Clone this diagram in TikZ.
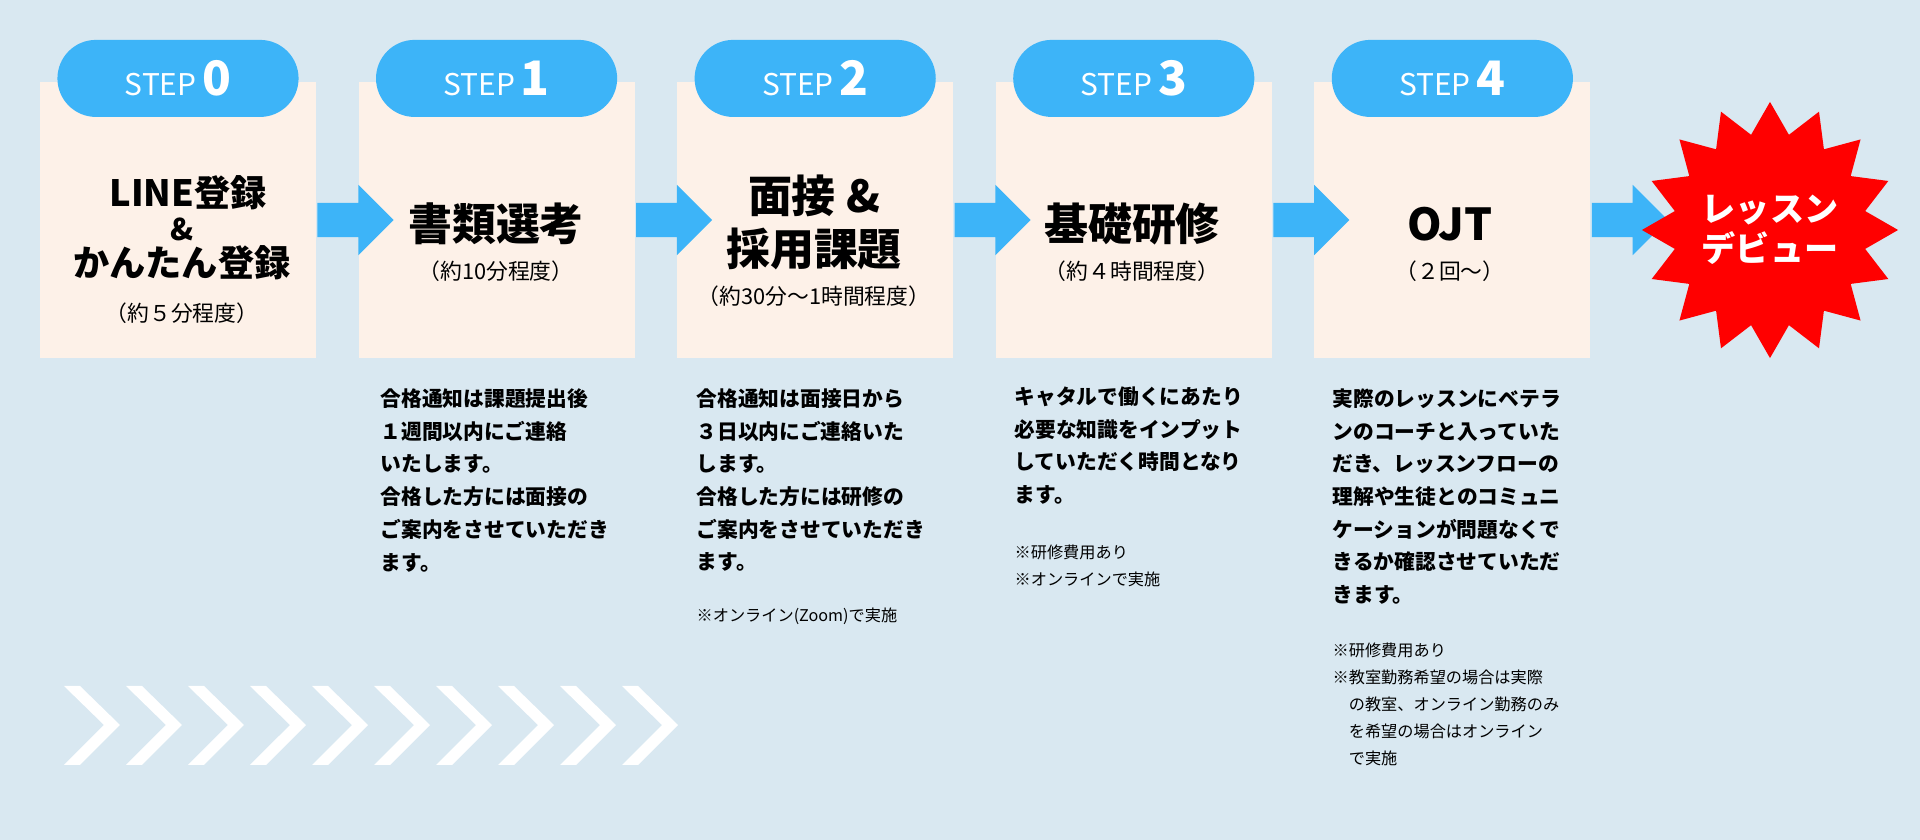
\documentclass[tikz,border=0pt]{standalone}
\usepackage{fontspec}
\setmainfont{Noto Sans CJK JP}
\usetikzlibrary{positioning,shapes.arrows,shapes.geometric}
\definecolor{bgblue}{HTML}{D9E8F1}
\definecolor{boxcream}{HTML}{FDF1E8}
\definecolor{pillblue}{HTML}{3DB4F8}
\definecolor{burstred}{HTML}{FF0000}
\tikzset{
  stepbox/.style={fill=boxcream,minimum width=2.76cm,minimum height=2.75cm,inner sep=0},
  steppill/.style={fill=pillblue,rounded corners=0.385cm,minimum width=2.41cm,minimum height=0.77cm,text=white,inner sep=0},
  flowarrow/.style={single arrow,fill=pillblue,single arrow head extend=0.18cm,single arrow head indent=0,inner sep=0.165cm,minimum height=0.76cm,anchor=west},
  titletext/.style={font=\fontsize{12.5}{14}\selectfont\bfseries,align=center},
  smalltitle/.style={font=\fontsize{10.3}{12}\selectfont\bfseries,align=center},
  subtext/.style={font=\fontsize{6.2}{8}\selectfont,align=center},
  bodytext/.style={anchor=north west,align=left,inner sep=0,font=\fontsize{5.9}{9.3}\selectfont\bfseries},
  notetext/.style={anchor=north west,align=left,inner sep=0,font=\fontsize{4.6}{7.7}\selectfont},
  chev/.style={fill=white}
}
\newcommand{\steplabel}[1]{{\fontsize{8.5}{9}\selectfont STEP}\,{\fontsize{13.5}{14}\selectfont\bfseries #1}}
\begin{document}
\begin{tikzpicture}[x=0.01cm,y=-0.01cm]
\fill[bgblue] (0,0) rectangle (1920,840);
\useasboundingbox (0,0) rectangle (1920,840);
% boxes
\node [stepbox] (box0) at (178,220) {};
\node [stepbox,right=0.41cm of box0] (box1) {};
\node [stepbox,right=0.41cm of box1] (box2) {};
\node [stepbox,right=0.41cm of box2] (box3) {};
\node [stepbox,right=0.41cm of box3] (box4) {};
% pills
\foreach \i in {0,...,4}{
  \node [steppill] (pill\i) at ([yshift=1.415cm]box\i.center) {\steplabel{\i}};
}
% arrows
\node [flowarrow] (arr0) at (box0.east) {};
\node [flowarrow] (arr1) at (box1.east) {};
\node [flowarrow] (arr2) at (box2.east) {};
\node [flowarrow] (arr3) at (box3.east) {};
\node [flowarrow] (arr4) at (box4.east) {};
% burst
\node [star,star points=16,star point ratio=1.32,fill=burstred,minimum size=2.56cm,inner sep=0,text=white,align=center,font=\fontsize{9.7}{11.5}\selectfont\bfseries] (debut) at (1770,230) {レッスン\\デビュー};
% titles
\node [smalltitle] (t0a) at (188,193) {LINE登録};
\node [smalltitle,font=\fontsize{8.5}{10}\selectfont\bfseries] (t0b) at (182,229) {\&};
\node [smalltitle] (t0c) at (182,263) {かんたん登録};
\node [subtext] (s0) at (182,313) {（約５分程度）};
\node [titletext] (t1) at (496,224) {書類選考};
\node [subtext] (s1) at (496,271) {（約10分程度）};
\node [titletext] (t2a) at (814,196) {面接 \&};
\node [titletext] (t2b) at (814,249) {採用課題};
\node [subtext] (s2) at (814,296) {（約30分～1時間程度）};
\node [titletext] (t3) at (1132,224) {基礎研修};
\node [subtext] (s3) at (1132,271) {（約４時間程度）};
\node [titletext] (t4) at (1450,224) {OJT};
\node [subtext] (s4) at (1450,271) {（２回～）};
% body texts
\node [bodytext] (b1) at (380,388) {合格通知は課題提出後\\１週間以内にご連絡\\いたします。\\合格した方には面接の\\ご案内をさせていただき\\ます。};
\node [bodytext] (b2) at (696,388) {合格通知は面接日から\\３日以内にご連絡いた\\します。\\合格した方には研修の\\ご案内をさせていただき\\ます。};
\node [notetext] (n2) at (696,607) {※オンライン(Zoom)で実施};
\node [bodytext] (b3) at (1014,386) {キャタルで働くにあたり\\必要な知識をインプット\\していただく時間となり\\ます。};
\node [notetext] (n3) at (1014,544) {※研修費用あり\\※オンラインで実施};
\node [bodytext] (b4) at (1332,388) {実際のレッスンにベテラ\\ンのコーチと入っていた\\だき、レッスンフローの\\理解や生徒とのコミュニ\\ケーションが問題なくで\\きるか確認させていただ\\きます。};
\node [notetext] (n4) at (1332,642) {※研修費用あり\\※教室勤務希望の場合は実際\\\hphantom{※}の教室、オンライン勤務のみ\\\hphantom{※}を希望の場合はオンライン\\\hphantom{※}で実施};
% chevrons
\foreach \k in {0,...,9}{
  \fill [chev] ({64+62*\k},686) -- ({80+62*\k},686) -- ({120+62*\k},725) -- ({80+62*\k},765) -- ({64+62*\k},765) -- ({104+62*\k},725) -- cycle;
}
\end{tikzpicture}
\end{document}
